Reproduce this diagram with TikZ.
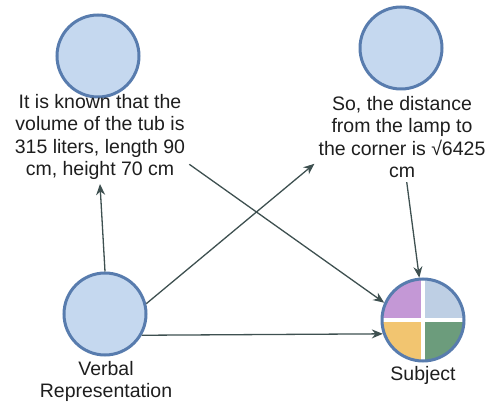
\documentclass[tikz,border=0pt]{standalone}
\usepackage{fontspec}
\setmainfont{Liberation Sans}
\usetikzlibrary{arrows.meta}
\definecolor{circfill}{RGB}{197,216,239}
\definecolor{circdraw}{RGB}{88,124,174}
\definecolor{arrowc}{RGB}{62,80,80}
\definecolor{qpurple}{RGB}{196,152,214}
\definecolor{qblue}{RGB}{190,207,228}
\definecolor{qorange}{RGB}{242,197,112}
\definecolor{qgreen}{RGB}{108,156,124}
\definecolor{txt}{RGB}{30,30,30}
\tikzset{
  bubble/.style={circle, draw=circdraw, line width=3pt, fill=circfill, minimum size=82pt, inner sep=0pt},
  txtblock/.style={align=center, text=txt, inner sep=4pt, font=\fontsize{19.5}{22.5}\selectfont},
  lbl/.style={align=center, text=txt, inner sep=1pt, font=\fontsize{19.5}{22}\selectfont},
  conn/.style={draw=arrowc, line width=1.3pt, -{Stealth[length=11pt,width=9pt]}},
}
\begin{document}
\begin{tikzpicture}[x=1pt,y=-1pt]
\useasboundingbox (0,0) rectangle (488,403);
\node[bubble] (A) at (98,56) {};
\node[txtblock] (At) at (100,137) {It is known that the\\volume of the tub is\\315 liters, length 90\\cm, height 70 cm};
\node[bubble] (B) at (401,48) {};
\node[txtblock] (Bt) at (402,137) {So, the distance\\from the lamp to\\the corner is √6425\\cm};
\node[bubble] (V) at (105,314) {};
\node[lbl] (Vl) at (106,381) {Verbal\\Representation};
\node[circle, draw=circdraw, line width=3pt, minimum size=82pt, inner sep=0pt,
  path picture={
    \fill[qpurple] (path picture bounding box.center) rectangle (path picture bounding box.north west);
    \fill[qblue] (path picture bounding box.center) rectangle (path picture bounding box.north east);
    \fill[qorange] (path picture bounding box.center) rectangle (path picture bounding box.south west);
    \fill[qgreen] (path picture bounding box.center) rectangle (path picture bounding box.south east);
    \draw[white, line width=3.5pt] (path picture bounding box.north) -- (path picture bounding box.south);
    \draw[white, line width=3.5pt] (path picture bounding box.west) -- (path picture bounding box.east);
  }] (S) at (423,320) {};
\node[lbl] (Sl) at (423,375) {Subject};
\draw[conn] (V.north) -- (At.south);
\draw[conn] (V.14) -- (Bt.197);
\draw[conn] (V.-30) -- (S.199);
\draw[conn] (At.343) -- (S.156);
\draw[conn] (Bt.-84) -- (S.95);
\end{tikzpicture}
\end{document}
